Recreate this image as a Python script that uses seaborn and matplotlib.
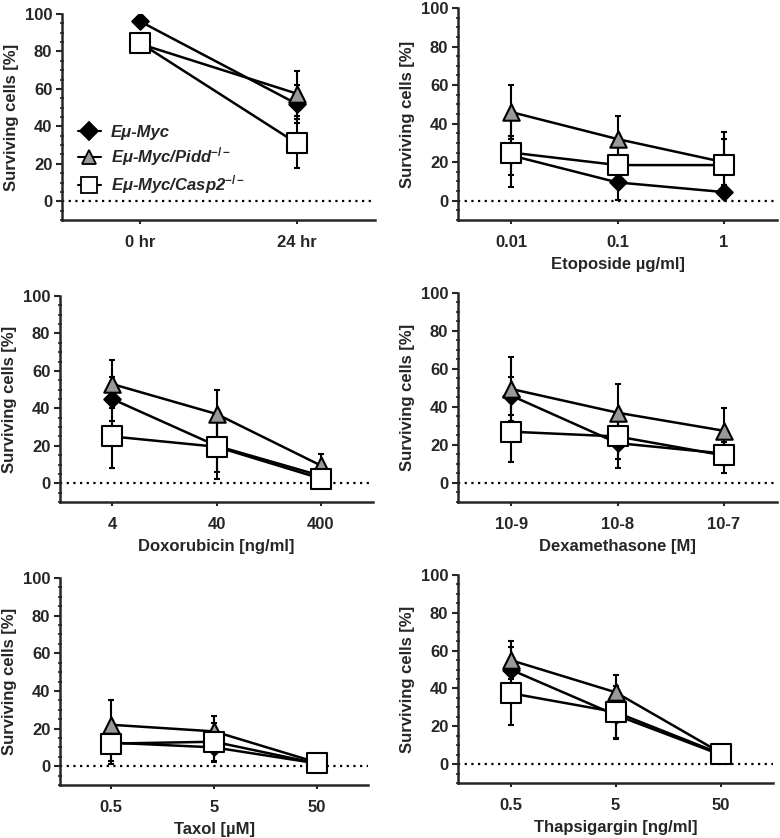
import numpy as np
import pandas as pd
import matplotlib
matplotlib.use("Agg")
import matplotlib.pyplot as plt
from matplotlib.lines import Line2D
from matplotlib.ticker import MultipleLocator
import seaborn as sns

sns.set_theme(style="ticks")
plt.rcParams['font.family'] = ['Liberation Sans', 'DejaVu Sans']
plt.rcParams['font.weight'] = 'bold'
plt.rcParams['mathtext.fontset'] = 'custom'
plt.rcParams['mathtext.rm'] = 'Liberation Sans:bold'
plt.rcParams['mathtext.it'] = 'Liberation Sans:italic:bold'
plt.rcParams['mathtext.bf'] = 'Liberation Sans:bold'

genotypes = ["Eμ-Myc", "Eμ-Myc/Pidd", "Eμ-Myc/Casp2"]
legend_labels = ["Eμ-Myc", r"Eμ-Myc/Pidd$^{-/-}$", r"Eμ-Myc/Casp2$^{-/-}$"]

# panel tick labels and x labels
ticks_time = ["0 hr", "24 hr"]
ticks_etop = ["0.01", "0.1", "1"]
ticks_doxo = ["4", "40", "400"]
ticks_dexa = ["10-9", "10-8", "10-7"]
ticks_taxol = ["0.5", "5", "50"]
ticks_thap = ["0.5", "5", "50"]
xlabels = ["", "Etoposide µg/ml]", "Doxorubicin [ng/ml]", "Dexamethasone [M]",
           "Taxol [µM]", "Thapsigargin [ng/ml]"]

# values (mean) per genotype: Myc, Pidd, Casp2
time_myc, time_pidd, time_casp = [96, 52], [84, 57.5], [84.5, 31]
time_myc_sd, time_pidd_sd, time_casp_sd = [2, 10], [3, 12], [3, 13]

etop_myc, etop_pidd, etop_casp = [23.5, 9.5, 4.5], [46, 32, 20], [25, 18.5, 18.5]
etop_myc_sd, etop_pidd_sd, etop_casp_sd = [10, 9, 3], [14, 12, 12], [18, 12, 17]

doxo_myc, doxo_pidd, doxo_casp = [45, 20, 4], [53, 37, 9.5], [25, 19.5, 2.5]
doxo_myc_sd, doxo_pidd_sd, doxo_casp_sd = [12, 14, 3], [13, 13, 6], [17, 17, 2]

dexa_myc, dexa_pidd, dexa_casp = [46, 21, 15.5], [49.5, 37, 27.5], [27, 24.5, 14.5]
dexa_myc_sd, dexa_pidd_sd, dexa_casp_sd = [10, 13, 6], [17, 15, 12], [16, 12, 9]

taxol_myc, taxol_pidd, taxol_casp = [12.5, 10, 1.5], [22, 18.5, 2], [12, 13, 1.5]
taxol_myc_sd, taxol_pidd_sd, taxol_casp_sd = [10, 8, 2], [13, 8, 3], [11, 10, 2]

thap_myc, thap_pidd, thap_casp = [50, 26, 5], [55, 38, 6], [37.5, 27.5, 5.5]
thap_myc_sd, thap_pidd_sd, thap_casp_sd = [12, 12, 3], [10, 9, 3], [17, 14, 3]

panels = [
    (ticks_time, [time_myc, time_pidd, time_casp], [time_myc_sd, time_pidd_sd, time_casp_sd]),
    (ticks_etop, [etop_myc, etop_pidd, etop_casp], [etop_myc_sd, etop_pidd_sd, etop_casp_sd]),
    (ticks_doxo, [doxo_myc, doxo_pidd, doxo_casp], [doxo_myc_sd, doxo_pidd_sd, doxo_casp_sd]),
    (ticks_dexa, [dexa_myc, dexa_pidd, dexa_casp], [dexa_myc_sd, dexa_pidd_sd, dexa_casp_sd]),
    (ticks_taxol, [taxol_myc, taxol_pidd, taxol_casp], [taxol_myc_sd, taxol_pidd_sd, taxol_casp_sd]),
    (ticks_thap, [thap_myc, thap_pidd, thap_casp], [thap_myc_sd, thap_pidd_sd, thap_casp_sd]),
]

face = {"Eμ-Myc": "black", "Eμ-Myc/Pidd": "#999999", "Eμ-Myc/Casp2": "white"}
mark = {"Eμ-Myc": "D", "Eμ-Myc/Pidd": "^", "Eμ-Myc/Casp2": "s"}
msize = {"Eμ-Myc": 70, "Eμ-Myc/Pidd": 140, "Eμ-Myc/Casp2": 190}

W, H = 780, 838
rects_px = [(62, 375, 14, 220), (458, 777, 8, 220),
            (60, 373, 296, 502), (458, 777, 293, 502),
            (60, 368, 578, 785), (458, 773, 575, 783)]

fig = plt.figure(figsize=(W / 100, H / 100), dpi=100)
FS = 12

for i, (ticks, means, sds) in enumerate(panels):
    l, r, t, b = rects_px[i]
    ax = fig.add_axes([l / W, 1 - b / H, (r - l) / W, (b - t) / H])
    rows = []
    for g, m, s in zip(genotypes, means, sds):
        for k, (mv, sv) in enumerate(zip(m, s)):
            rows.append(dict(genotype=g, pos=k, value=mv, sd=sv))
    df = pd.DataFrame(rows)

    ax.axhline(0, color="black", lw=1.6, ls=(0, (1, 2)), zorder=1)
    for g in genotypes:
        d = df[df.genotype == g]
        ax.errorbar(d.pos, d.value, yerr=d.sd, fmt="none", ecolor="black",
                    elinewidth=1.5, capsize=2, capthick=1.5, zorder=2)
    sns.lineplot(data=df, x="pos", y="value", units="genotype", estimator=None,
                 color="black", lw=1.8, ax=ax, zorder=3, legend=False)
    for j, g in enumerate(genotypes):
        d = df[df.genotype == g]
        sns.scatterplot(data=d, x="pos", y="value", marker=mark[g], s=msize[g],
                        color=face[g], edgecolor="black", linewidth=1.5,
                        ax=ax, zorder=4 + j, legend=False)

    n = len(ticks)
    ax.set_xlim(-0.5, n - 0.5)
    ax.set_ylim(-10, 100)
    ax.set_xticks(range(n))
    ax.set_xticklabels(ticks, fontsize=FS, fontweight="bold")
    ax.set_yticks([0, 20, 40, 60, 80, 100])
    ax.set_yticklabels(["0", "20", "40", "60", "80", "100"], fontsize=FS, fontweight="bold")
    ax.yaxis.set_minor_locator(MultipleLocator(5))
    ax.tick_params(axis="y", which="major", length=4, width=1.5, direction="out", pad=3)
    ax.tick_params(axis="y", which="minor", length=3, width=1.2, direction="inout")
    ax.tick_params(axis="x", which="major", length=3, width=1.5, direction="out", pad=8)
    ax.set_xlabel(xlabels[i], fontsize=FS, fontweight="bold", labelpad=5)
    ax.set_ylabel("Surviving cells [%]", fontsize=FS, fontweight="bold", labelpad=4)
    sns.despine(ax=ax)
    for sp in ("left", "bottom"):
        ax.spines[sp].set_linewidth(1.8)
    ax.spines["left"].set_bounds(-10, 100)

    if i == 0:
        handles = []
        for g, sz in zip(genotypes, [9, 10, 11]):
            handles.append(Line2D([0], [0], color="black", lw=1.5, marker=mark[g],
                                  markersize=sz, markerfacecolor=face[g],
                                  markeredgecolor="black", markeredgewidth=1.3))
        leg = ax.legend(handles, legend_labels, loc="upper left",
                        bbox_to_anchor=(0.05, 0.46), frameon=False,
                        handlelength=1.4, handletextpad=0.6, labelspacing=0.3,
                        borderpad=0, borderaxespad=0,
                        prop=dict(size=FS, weight="bold", style="italic"))

fig.savefig("out.png", dpi=100)
